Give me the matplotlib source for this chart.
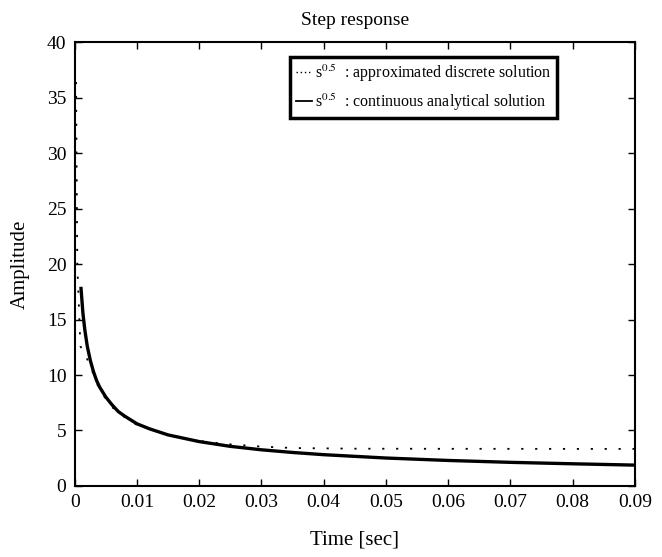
import matplotlib
matplotlib.use("Agg")
import matplotlib.pyplot as plt

plt.rcParams["font.family"] = ["Liberation Serif", "DejaVu Serif"]
plt.rcParams["mathtext.fontset"] = "stix"

# continuous analytical solution
t_cont = [0.001, 0.0013, 0.0016, 0.002, 0.0025, 0.003, 0.0035, 0.004, 0.005, 0.006,
          0.007, 0.008, 0.010, 0.012, 0.015, 0.020, 0.025, 0.030, 0.035, 0.040,
          0.050, 0.060, 0.070, 0.080, 0.090]
y_cont = [17.8, 15.6, 14.1, 12.6, 11.3, 10.3, 9.5, 8.9, 8.0, 7.3,
          6.7, 6.3, 5.6, 5.15, 4.6, 4.0, 3.57, 3.26, 3.02, 2.82,
          2.52, 2.30, 2.13, 2.0, 1.88]

# approximated discrete solution
t_disc = [0.0002, 0.0004, 0.0009, 0.0016, 0.0025, 0.004, 0.006, 0.008, 0.010,
          0.015, 0.020, 0.025, 0.030, 0.035, 0.045, 0.060, 0.090]
y_disc = [36.4, 20.0, 12.6, 11.9, 10.8, 8.6, 7.1, 6.2, 5.5,
          4.6, 4.05, 3.75, 3.55, 3.42, 3.36, 3.35, 3.34]

x_ticks = [0, 0.01, 0.02, 0.03, 0.04, 0.05, 0.06, 0.07, 0.08, 0.09]
x_labels = ["0", "0.01", "0.02", "0.03", "0.04", "0.05", "0.06", "0.07", "0.08", "0.09"]
y_ticks = [0, 5, 10, 15, 20, 25, 30, 35, 40]

fig = plt.figure(figsize=(6.62, 5.57), dpi=100)
ax = fig.add_axes([0.113, 0.1275, 0.846, 0.797])

ax.plot(t_disc, y_disc, color="black", lw=1.3, linestyle=(0, (1.2, 6.5)),
        label="s$^{0.5}$  : approximated discrete solution")
ax.plot(t_cont, y_cont, color="black", lw=2.4,
        label="s$^{0.5}$  : continuous analytical solution")

ax.set_xlim(0, 0.09)
ax.set_ylim(0, 40)
ax.set_xticks(x_ticks)
ax.set_xticklabels(x_labels)
ax.set_yticks(y_ticks)
ax.tick_params(direction="in", top=True, right=True, labelsize=14, length=5, width=1,
               pad=6)
for s in ax.spines.values():
    s.set_linewidth(1.5)

ax.set_title("Step response", fontsize=14, pad=12)
ax.set_xlabel("Time [sec]", fontsize=15, labelpad=14)
ax.set_ylabel("Amplitude", fontsize=15, labelpad=12)

leg = ax.legend(loc="upper right", bbox_to_anchor=(0.861, 0.967), fontsize=11.5,
                handlelength=1.0, handletextpad=0.2, fancybox=False, framealpha=1,
                borderpad=0.35, labelspacing=0.5, borderaxespad=0)
leg.get_frame().set_edgecolor("black")
leg.get_frame().set_linewidth(2.5)
handles = leg.get_lines()
handles[0].set_linewidth(1.0)
handles[0].set_linestyle((0, (1, 2)))
handles[1].set_linewidth(1.3)

fig.savefig("out.png", dpi=100)
